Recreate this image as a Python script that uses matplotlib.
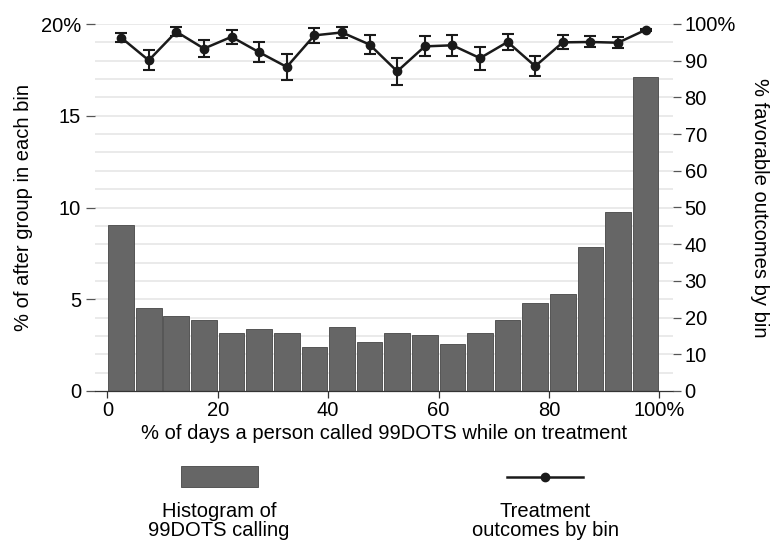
import matplotlib.pyplot as plt
from matplotlib.patches import Rectangle
from matplotlib.lines import Line2D

plt.rcParams['font.family'] = ['Liberation Sans', 'DejaVu Sans']

# bins of "% of days called" (left edge of each 5-point bin)
bin_left = [0, 5, 10, 15, 20, 25, 30, 35, 40, 45, 50, 55, 60, 65, 70, 75, 80, 85, 90, 95]
bin_width = 5
# % of after group in each bin
hist_pct = [9.03, 4.50, 4.08, 3.88, 3.16, 3.38, 3.16, 2.38, 3.49, 2.65,
            3.14, 3.04, 2.58, 3.18, 3.85, 4.82, 5.29, 7.86, 9.76, 17.13]
# % favorable outcomes by bin and CI half-widths
outcome_pct = [96.3, 90.1, 97.9, 93.3, 96.5, 92.3, 88.3, 96.9, 97.7, 94.4,
               87.1, 93.9, 94.2, 90.7, 95.1, 88.5, 95.0, 95.1, 94.9, 98.4]
outcome_ci = [1.2, 2.7, 1.3, 2.4, 1.9, 2.7, 3.5, 2.1, 1.5, 2.7,
              3.6, 2.7, 2.8, 3.1, 2.1, 2.8, 1.9, 1.5, 1.5, 0.3]

left_ticks = [0, 5, 10, 15, 20]
left_labels = ['0', '5', '10', '15', '20%']
right_ticks = list(range(0, 101, 10))
right_labels = [str(t) for t in right_ticks[:-1]] + ['100%']
x_ticks = [0, 20, 40, 60, 80, 100]
x_labels = ['0', '20', '40', '60', '80', '100%']

BAR = '#666666'
FS = 14.5

fig = plt.figure(figsize=(7.71, 5.40), dpi=100)
ax = fig.add_axes([95 / 771, 1 - 391 / 540, (672.7 - 95) / 771, (391 - 24) / 540])

centers = [b + bin_width / 2 for b in bin_left]
ax.bar(centers, hist_pct, width=bin_width * 0.93, color=BAR, edgecolor='#555555',
       linewidth=0.7, zorder=2)

ax.set_xlim(-2.23, 102.4)
ax.set_ylim(0, 20)
for g in range(1, 21):
    ax.axhline(g, color='#e6e6e6', linewidth=1.2, zorder=0)

ax.set_yticks(left_ticks)
ax.set_yticklabels(left_labels, fontsize=FS)
ax.set_xticks(x_ticks)
ax.set_xticklabels(x_labels, fontsize=FS)
ax.tick_params(axis='y', length=6.5, width=0.9, color='#555555', pad=3.5)
ax.tick_params(axis='x', length=5, width=0.9, color='#333333', pad=2)
for s in ['top', 'left', 'right']:
    ax.spines[s].set_visible(False)
ax.spines['bottom'].set_color('#333333')
ax.spines['bottom'].set_linewidth(0.9)
ax.set_xlabel('% of days a person called 99DOTS while on treatment', fontsize=FS, labelpad=3)
ax.set_ylabel('% of after group in each bin', fontsize=FS, labelpad=6)

ax2 = ax.twinx()
ax2.set_ylim(0, 100)
ax2.errorbar(centers, outcome_pct, yerr=outcome_ci, color='#1a1a1a', linewidth=1.8,
             marker='o', markersize=6, elinewidth=1.5, capsize=4.5, capthick=1.5,
             clip_on=False, zorder=3)
ax2.set_yticks(right_ticks)
ax2.set_yticklabels(right_labels, fontsize=FS)
ax2.tick_params(axis='y', length=5.5, width=0.9, color='#555555', pad=3)
for s in ['top', 'left', 'right', 'bottom']:
    ax2.spines[s].set_visible(False)
ax2.set_ylabel('% favorable outcomes by bin', fontsize=FS, rotation=270, labelpad=24)

# legend drawn Stata-style: key above text
fig.add_artist(Rectangle((180.6 / 771, 1 - 487 / 540), 77 / 771, 21 / 540,
                         transform=fig.transFigure, facecolor=BAR, edgecolor='#555555',
                         linewidth=0.7))
fig.add_artist(Line2D([507 / 771, 583 / 771], [1 - 477 / 540] * 2, transform=fig.transFigure,
                      color='#1a1a1a', linewidth=1.8, marker=None))
fig.add_artist(Line2D([545 / 771], [1 - 477 / 540], transform=fig.transFigure,
                      color='#1a1a1a', marker='o', markersize=6))
fig.text(219 / 771, 1 - 521 / 540, 'Histogram of\n99DOTS calling', ha='center', va='center',
         fontsize=FS, linespacing=0.95)
fig.text(545 / 771, 1 - 521 / 540, 'Treatment\noutcomes by bin', ha='center', va='center',
         fontsize=FS, linespacing=0.95)

fig.savefig('out.png', dpi=100)
